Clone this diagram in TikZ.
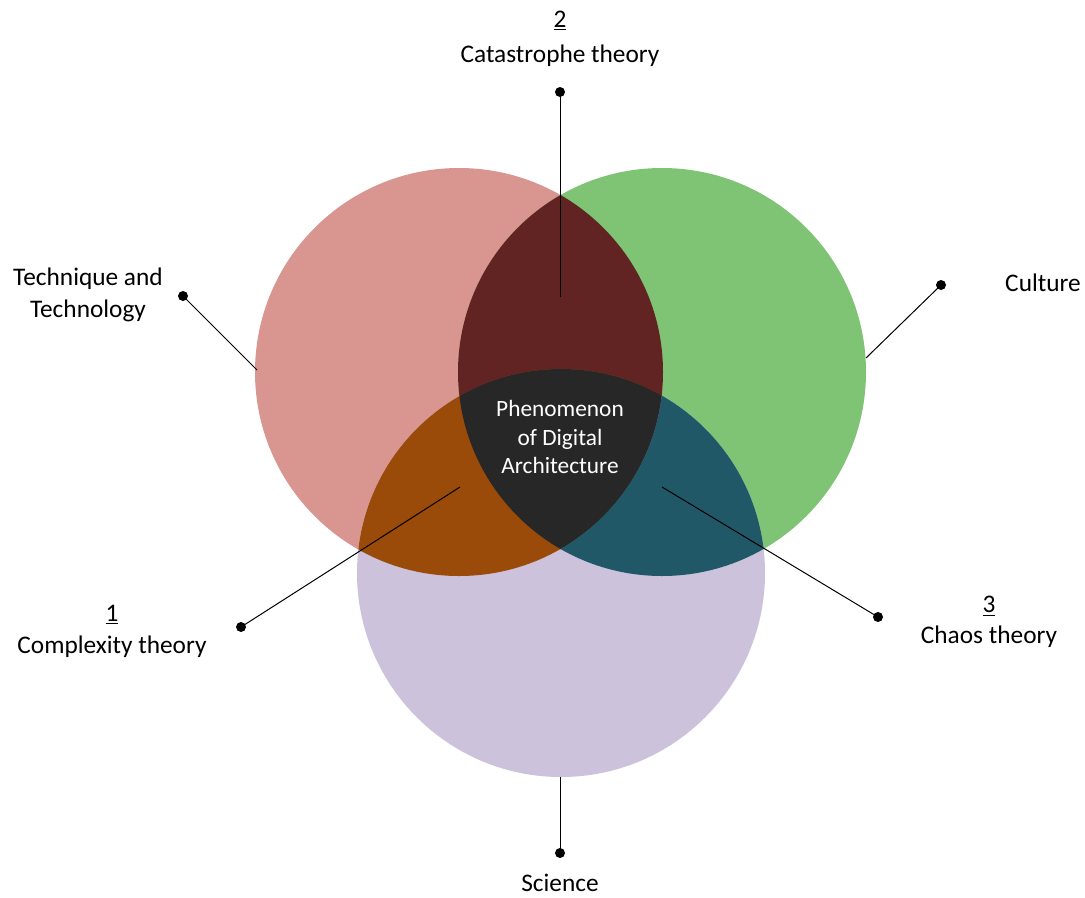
\documentclass[tikz,border=0pt]{standalone}
\usepackage{fontspec}
\setmainfont{Carlito}
\definecolor{cred}{HTML}{D99590}
\definecolor{cgreen}{HTML}{7EC474}
\definecolor{cpurple}{HTML}{CCC2DB}
\definecolor{crg}{HTML}{612422}
\definecolor{crp}{HTML}{9A4A09}
\definecolor{cgp}{HTML}{215868}
\definecolor{call}{HTML}{272727}
\begin{document}
\begin{tikzpicture}[x=0.75pt,y=-0.75pt,
  lbl/.style={font=\fontsize{19}{23.5}\selectfont, align=center, inner sep=0pt},
  dotnode/.style={circle, fill=black, inner sep=0pt, minimum size=7.5pt},
  conn/.style={draw=black, line width=0.75pt}]
\useasboundingbox (0,0) rectangle (1085,897);
\def\R{204}
\coordinate (cr) at (459,372);
\coordinate (cg) at (662,372);
\coordinate (cp) at (561,573);
\fill[cred] (cr) circle[radius=\R];
\fill[cgreen] (cg) circle[radius=\R];
\fill[cpurple] (cp) circle[radius=\R];
\begin{scope}
  \clip (cr) circle[radius=\R];
  \fill[crg] (cg) circle[radius=\R];
  \fill[crp] (cp) circle[radius=\R];
  \clip (cg) circle[radius=\R];
  \fill[call] (cp) circle[radius=\R];
\end{scope}
\begin{scope}[even odd rule]
  \clip (cg) circle[radius=\R];
  \clip (cr) circle[radius=\R] (-10,-10) rectangle (1100,910);
  \fill[cgp] (cp) circle[radius=\R];
\end{scope}

% center text
\node[lbl, text=white, font=\fontsize{17.5}{21.5}\selectfont] (center) at (560,437) {Phenomenon\\of Digital\\Architecture};

% labels
\node[lbl] (n2) at (560,21) {\underline{2}};
\node[lbl] (cat) at (560,56) {Catastrophe theory};
\node[lbl] (tech) at (88,295) {Technique and\\Technology};
\node[lbl] (cult) at (1043,283) {Culture};
\node[lbl] (n1) at (112,615) {\underline{1}};
\node[lbl] (comp) at (112,647) {Complexity theory};
\node[lbl] (n3) at (989,606) {\underline{3}};
\node[lbl] (chaos) at (989,637) {Chaos theory};
\node[lbl] (sci) at (560,883) {Science};

% dots
\node[dotnode] (dcat) at (560,92) {};
\node[dotnode] (dtech) at (183,296) {};
\node[dotnode] (dcult) at (941,285) {};
\node[dotnode] (dcomp) at (241,627) {};
\node[dotnode] (dchaos) at (878,617) {};
\node[dotnode] (dsci) at (560,853) {};

% free ends
\coordinate (ecat) at (560,297);
\coordinate (etech) at (257,370);
\coordinate (ecult) at (866,358);
\coordinate (ecomp) at (460,487);
\coordinate (echaos) at (662,487);
\coordinate (esci) at (560,777);

\draw[conn] (dcat.center) -- (ecat);
\draw[conn] (dtech.center) -- (etech);
\draw[conn] (dcult.center) -- (ecult);
\draw[conn] (dcomp.center) -- (ecomp);
\draw[conn] (dchaos.center) -- (echaos);
\draw[conn] (dsci.center) -- (esci);
\end{tikzpicture}
\end{document}
